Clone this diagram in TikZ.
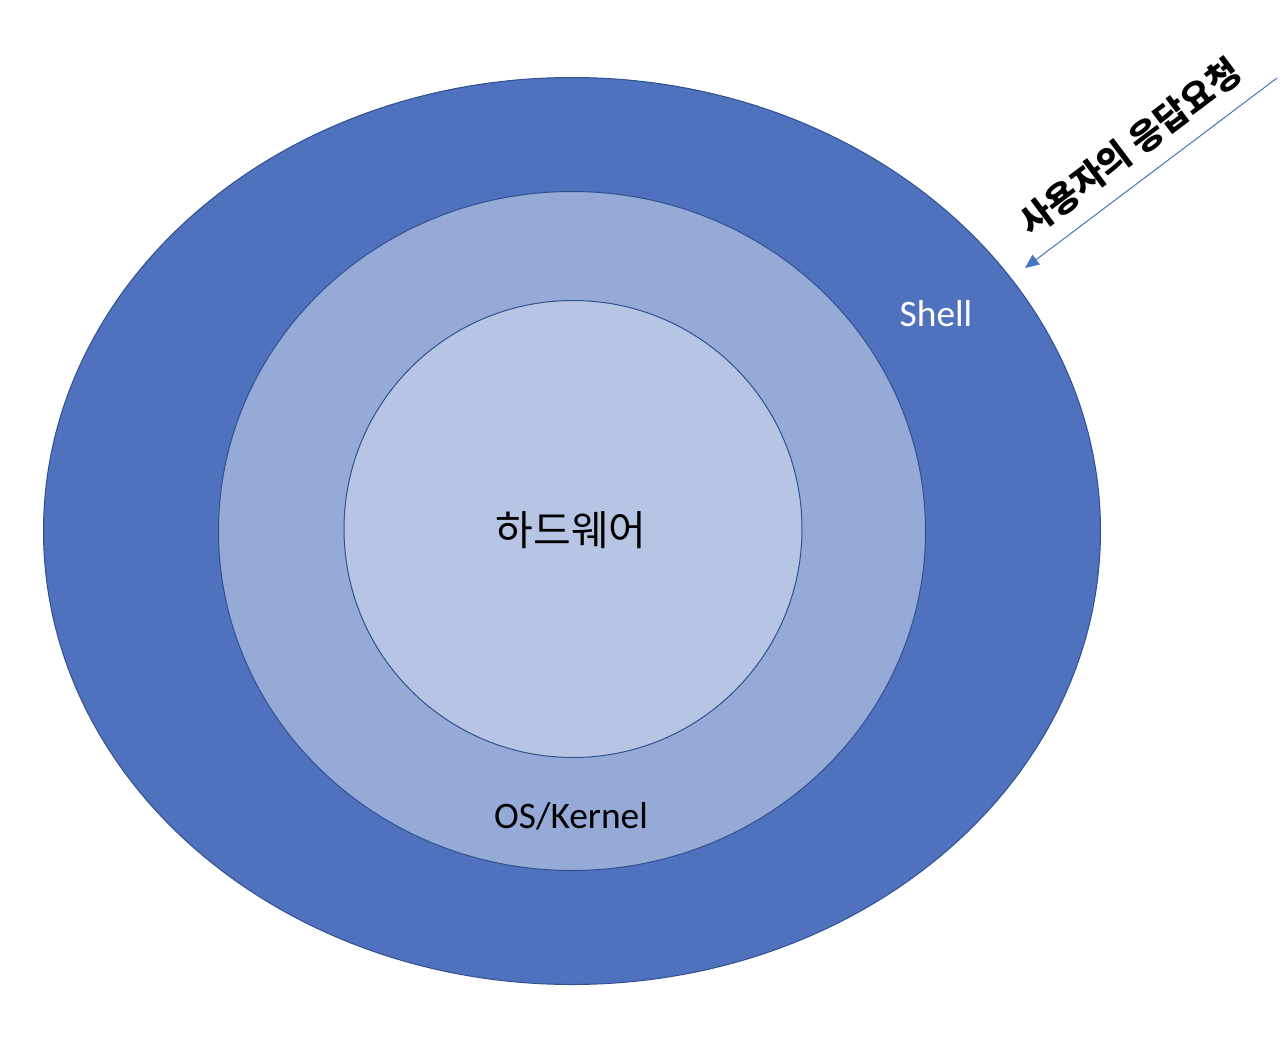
\documentclass[tikz,border=0pt]{standalone}
\usepackage{fontspec}
\setmainfont{Carlito}
\newfontfamily\kr{Noto Sans CJK KR}
\usetikzlibrary{arrows.meta,shapes.geometric}

\definecolor{shellblue}{RGB}{79,113,190}
\definecolor{kernelblue}{RGB}{149,170,215}
\definecolor{hwblue}{RGB}{182,197,227}
\definecolor{rimblue}{RGB}{47,82,143}
\definecolor{arrowblue}{RGB}{68,114,196}

\tikzset{layer/.style={ellipse,draw=rimblue,line width=0.5pt,inner sep=0pt},
         lbl/.style={font=\fontsize{18.7}{22}\selectfont}}

\begin{document}
\begin{tikzpicture}[x=0.5pt,y=-0.5pt]
\useasboundingbox (0,0) rectangle (1286,1060);
\node[layer,fill=shellblue,minimum width=528.5pt,minimum height=453.5pt] (shell) at (572,531) {};
\node[layer,fill=kernelblue,minimum width=353.5pt,minimum height=339.5pt] (kernel) at (572,531) {};
\node[layer,fill=hwblue,minimum width=229pt,minimum height=228.5pt] (hw) at (573,529) {};

\node[lbl,text=white] (shelltxt) at (936,314) {Shell};
\node[lbl] (kerneltxt) at (571,816) {OS/Kernel};
\node[font=\kr\fontsize{20.5}{24}\selectfont] (hwtxt) at (571,530) {하드웨어};

\coordinate (reqstart) at (1277,78);
\coordinate (reqend) at (1025,268);
\draw[arrowblue,line width=0.5pt,-{Triangle[length=7pt,width=6pt]}] (reqstart) -- (reqend);
\node[font=\kr\bfseries\fontsize{17.5}{21}\selectfont,rotate=37,inner sep=0pt] (reqtxt) at (1130,147) {사용자의 응답요청};
\end{tikzpicture}
\end{document}
